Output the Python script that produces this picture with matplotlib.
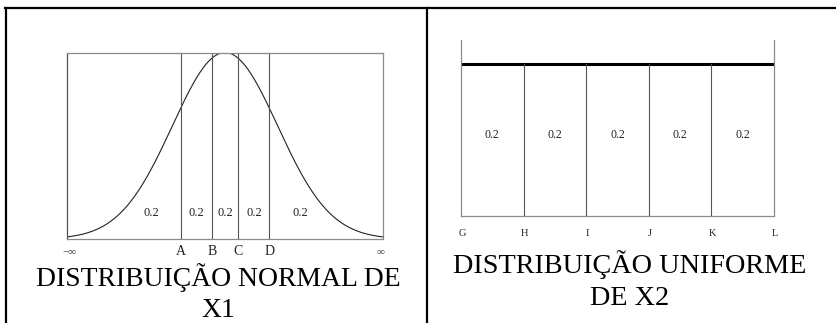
import numpy as np
import matplotlib
matplotlib.use("Agg")
import matplotlib.pyplot as plt
from matplotlib.lines import Line2D

# ---- data ----
normal_cuts = [-0.8416, -0.2533, 0.2533, 0.8416]
normal_cut_labels = ["A", "B", "C", "D"]
normal_prob_labels = ["0.2", "0.2", "0.2", "0.2", "0.2"]
normal_prob_x = [-1.40, -0.55, 0.0, 0.55, 1.43]
normal_xlim = [-3.0, 3.0]
normal_end_labels = ["\u2212\u221e", "\u221e"]

uniform_cuts = [0.2, 0.4, 0.6, 0.8]
uniform_tick_pos = [0.0, 0.2, 0.4, 0.6, 0.8, 1.0]
uniform_tick_labels = ["G", "H", "I", "J", "K", "L"]
uniform_prob_labels = ["0.2", "0.2", "0.2", "0.2", "0.2"]
uniform_density = 1.0

title_left = "DISTRIBUIÇÃO NORMAL DE\nX1"
title_right = "DISTRIBUIÇÃO UNIFORME\nDE X2"

W, H = 837, 323
fig = plt.figure(figsize=(W / 100, H / 100), dpi=100)
plt.rcParams['font.family'] = ['Liberation Serif', 'DejaVu Serif']

def fx(px):
    return px / W

def fy(py):
    return 1 - py / H

# ---- frame lines ----
frame_kw = dict(color="black", lw=1.6, transform=fig.transFigure)
fig.add_artist(Line2D([fx(5), 1.0], [fy(7.5), fy(7.5)], **frame_kw))
fig.add_artist(Line2D([fx(6), fx(6)], [fy(7.5), 0], **frame_kw))
fig.add_artist(Line2D([fx(427), fx(427)], [fy(7.5), 0], **frame_kw))

gray = "#8a8a8a"

# ---- left: normal ----
axL = fig.add_axes([fx(67), fy(239), fx(383 - 67), (239 - 52.5) / H])
xs = np.linspace(normal_xlim[0], normal_xlim[1], 400)
pdf = np.exp(-xs ** 2 / 2) / np.sqrt(2 * np.pi)
axL.plot(xs, pdf, color="#222222", lw=0.8)
axL.set_xlim(normal_xlim)
axL.set_ylim(0, pdf.max())
for c in normal_cuts:
    axL.plot([c, c], [0, pdf.max()], color="#555555", lw=0.8)
for s in axL.spines.values():
    s.set_color(gray)
    s.set_linewidth(0.9)
axL.spines['left'].set_color("#555555")
axL.set_xticks([])
axL.set_yticks([])
for x, t in zip(normal_prob_x, normal_prob_labels):
    axL.text(x, 0.055, t, ha="center", va="center", fontsize=9, color="#222222")
for c, t in zip(normal_cuts, normal_cut_labels):
    axL.text(c, -0.027, t, ha="center", va="center", fontsize=10, color="#222222")
axL.text(normal_xlim[0] + 0.05, -0.027, normal_end_labels[0], ha="center", va="center", fontsize=8, color="#444444")
axL.text(normal_xlim[1] - 0.05, -0.027, normal_end_labels[1], ha="center", va="center", fontsize=8, color="#444444")
fig.text(fx(218), fy(293), title_left, ha="center", va="center", fontsize=19.9,
         linespacing=1.33, color="black")

# ---- right: uniform ----
axR = fig.add_axes([fx(461), fy(216), fx(774 - 461), (216 - 40) / H])
axR.set_xlim(0, 1)
axR.set_ylim(0, uniform_density / 0.864)
axR.plot([0, 1], [uniform_density, uniform_density], color="black", lw=2.2, solid_capstyle="butt")
for c in uniform_cuts:
    axR.plot([c, c], [0, uniform_density], color="#555555", lw=0.8)
axR.spines['top'].set_visible(False)
for s in ['left', 'right', 'bottom']:
    axR.spines[s].set_color(gray)
    axR.spines[s].set_linewidth(0.9)
axR.set_xticks([])
axR.set_yticks([])
centers = [(a + b) / 2 for a, b in zip(uniform_tick_pos[:-1], uniform_tick_pos[1:])]
for x, t in zip(centers, uniform_prob_labels):
    axR.text(x, 0.535, t, ha="center", va="center", fontsize=8.5, color="#222222")
for x, t in zip(uniform_tick_pos, uniform_tick_labels):
    axR.text(x + 0.003, -0.113, t, ha="center", va="center", fontsize=7.5, color="#222222")
fig.text(fx(630), fy(280.5), title_right, ha="center", va="center", fontsize=20.3,
         linespacing=1.36, color="black")

fig.savefig("out.png", dpi=100)
